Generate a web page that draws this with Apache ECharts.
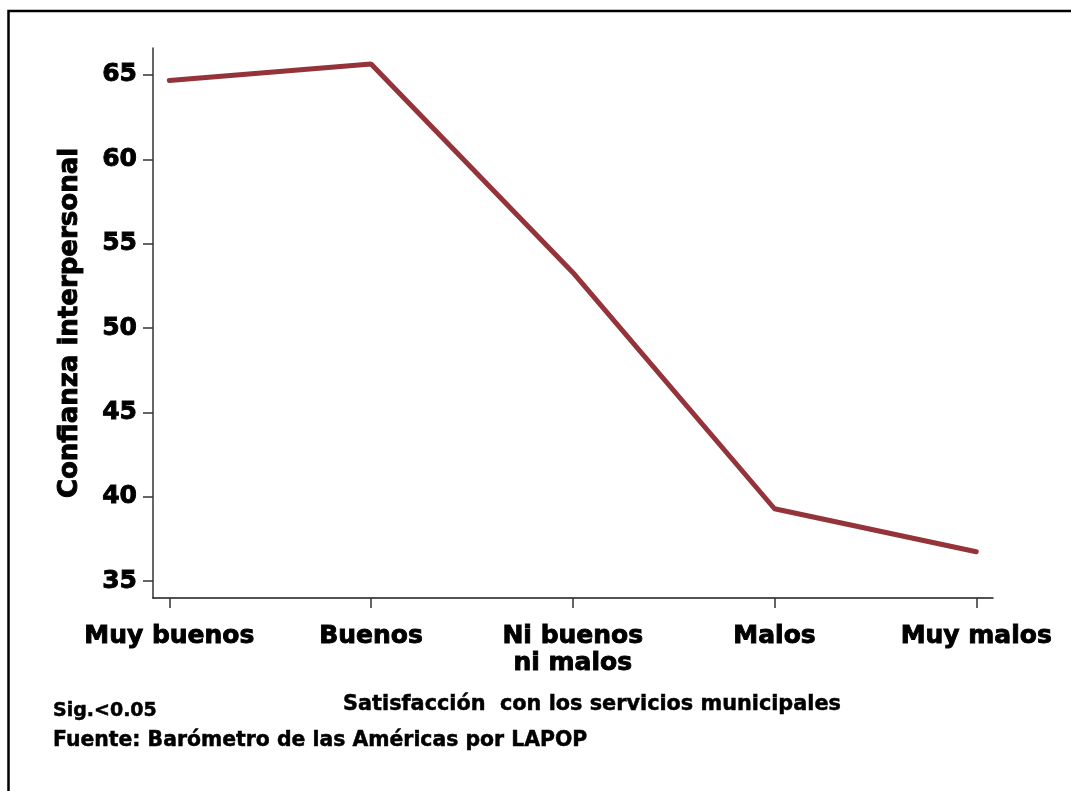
<!DOCTYPE html>
<html>
<head>
<meta charset="utf-8">
<script src="https://cdn.jsdelivr.net/npm/echarts@6/dist/echarts.min.js"></script>
<style>
html,body{margin:0;padding:0;background:#fff;}
#chart{width:1071px;height:791px;}
</style>
</head>
<body>
<div id="chart"></div>
<script>
const categories = ['Muy buenos', 'Buenos', 'Ni buenos\nni malos', 'Malos', 'Muy malos'];
const values = [64.67, 65.65, 53.3, 39.29, 36.74];
const yTicks = [35, 40, 45, 50, 55, 60, 65];
const xTicks = [0, 1, 2, 3, 4];

const FONT = '"DejaVu Sans", sans-serif';
const heavy = {textBorderColor: '#000', textBorderWidth: 0.9};
const chart = echarts.init(document.getElementById('chart'), null, {renderer: 'canvas'});
chart.setOption({
  backgroundColor: '#ffffff',
  animation: false,
  grid: {left: 153, right: 78, top: 48, bottom: 193, containLabel: false},
  xAxis: {
    type: 'value',
    min: -0.081,
    max: 4.083,
    splitLine: {show: false},
    axisLine: {show: true, onZero: false, lineStyle: {color: '#1a1a1a', width: 1.5}},
    axisTick: {show: true, length: 10, lineStyle: {color: '#333', width: 1.5}, customValues: xTicks},
    axisLabel: Object.assign({
      customValues: xTicks,
      margin: 25,
      color: '#000',
      fontFamily: FONT,
      fontWeight: 'bold',
      fontSize: 25,
      lineHeight: 27,
      formatter: function (v) { return categories[Math.round(v)]; }
    }, heavy)
  },
  yAxis: {
    type: 'value',
    min: 34,
    max: 66.6,
    name: 'Confianza interpersonal',
    nameLocation: 'middle',
    nameGap: 70,
    nameTextStyle: Object.assign({color: '#000', fontFamily: FONT, fontWeight: 'bold', fontSize: 26}, heavy),
    splitLine: {show: false},
    axisLine: {show: true, onZero: false, lineStyle: {color: '#333', width: 1.5}},
    axisTick: {show: true, length: 10, lineStyle: {color: '#333', width: 1.5}, customValues: yTicks},
    axisLabel: Object.assign({
      customValues: yTicks,
      margin: 16,
      color: '#000',
      fontFamily: FONT,
      fontWeight: 'bold',
      fontSize: 25
    }, heavy)
  },
  series: [{
    type: 'line',
    data: values.map((v, i) => [xTicks[i], v]),
    showSymbol: false,
    symbol: 'none',
    lineStyle: {color: '#943339', width: 5, cap: 'round'}
  }],
  graphic: [
    {type: 'rect', shape: {x: 8.5, y: 11, width: 1200, height: 900}, style: {fill: 'none', stroke: '#000', lineWidth: 2.5}, silent: true},
    {type: 'text', x: 592, y: 705, style: {text: 'Satisfacción  con los servicios municipales', fill: '#000', font: 'bold 20.8px "DejaVu Sans", sans-serif', align: 'center', verticalAlign: 'middle', stroke: '#000', lineWidth: 0.5}},
    {type: 'text', x: 53, y: 711, style: {text: 'Sig.<0.05', fill: '#000', font: 'bold 19px "DejaVu Sans", sans-serif', align: 'left', verticalAlign: 'middle', stroke: '#000', lineWidth: 0.5}},
    {type: 'text', x: 53, y: 740.5, style: {text: 'Fuente: Barómetro de las Américas por LAPOP', fill: '#000', font: 'bold 20.4px "DejaVu Sans", sans-serif', align: 'left', verticalAlign: 'middle', stroke: '#000', lineWidth: 0.5}}
  ]
});
</script>
</body>
</html>
